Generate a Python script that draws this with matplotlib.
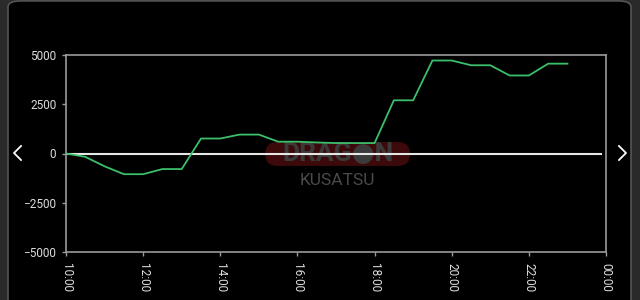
import matplotlib
matplotlib.use('Agg')
import matplotlib.pyplot as plt
from matplotlib.patches import FancyBboxPatch
from matplotlib.lines import Line2D

# hours since 10:00, every 30 minutes
hours = [10.0, 10.5, 11.0, 11.5, 12.0, 12.5, 13.0, 13.5, 14.0, 14.5, 15.0, 15.5,
         16.0, 16.5, 17.0, 17.5, 18.0, 18.5, 19.0, 19.5, 20.0, 20.5, 21.0, 21.5,
         22.0, 22.5, 23.0]
diff = [0, -170, -650, -1050, -1050, -790, -790, 760, 760, 960, 960, 600,
        600, 560, 530, 530, 530, 2700, 2700, 4720, 4720, 4480, 4480, 3960,
        3960, 4560, 4560]
tick_hours = [10, 12, 14, 16, 18, 20, 22, 24]
tick_labels = ['10:00', '12:00', '14:00', '16:00', '18:00', '20:00', '22:00', '00:00']
y_ticks = [-5000, -2500, 0, 2500, 5000]

plt.rcParams['font.family'] = ['Roboto', 'DejaVu Sans']

fig = plt.figure(figsize=(6.4, 3.0), dpi=100)
fig.patch.set_facecolor('#2a2a2a')

# rounded black panel with a grey edge
panel = FancyBboxPatch((8 / 640, -0.1), 623 / 640, 1.097,
                       boxstyle='round,pad=0,rounding_size=0.02',
                       transform=fig.transFigure, facecolor='black',
                       edgecolor='#555555', linewidth=1.2, zorder=-5)
fig.patches.append(panel)

# navigation arrows
for xs in ([21, 14, 21], [619, 626, 619]):
    fig.lines.append(Line2D([x / 640 for x in xs], [1 - 146 / 300, 1 - 153 / 300, 1 - 160 / 300],
                            transform=fig.transFigure, color='white', linewidth=1.3))

ax = fig.add_axes([66 / 640, 48 / 300, 540 / 640, 197 / 300])
ax.set_facecolor('black')

# watermark: red pill, logo text
pill = FancyBboxPatch((0.369, 0.437), 0.268, 0.121,
                      boxstyle='round,pad=0,rounding_size=0.022', mutation_aspect=2.74,
                      transform=ax.transAxes, facecolor='#3c0a0a', edgecolor='none', zorder=0.5)
ax.add_patch(pill)
ax.text(0.503, 0.497, 'DRAG\u25CFN', transform=ax.transAxes, ha='center', va='center',
        fontsize=19, fontweight='bold', color='#3a3a3a', zorder=1)
ax.text(0.503, 0.365, 'KUSATSU', transform=ax.transAxes, ha='center', va='center',
        fontsize=12.5, color='#4a4a4a', zorder=1)

ax.axhline(0, xmin=0, xmax=0.99, color='#e6e6e6', linewidth=1.5, zorder=2)
ax.plot(hours, diff, color='#3cbf6a', linewidth=1.3, zorder=3)

ax.set_xlim(10, 24)
ax.set_ylim(-5000, 5000)
ax.set_xticks(tick_hours)
ax.set_xticklabels(tick_labels, rotation=270)
ax.set_yticks(y_ticks)

for s in ax.spines.values():
    s.set_color('#9a9a9a')
    s.set_linewidth(1.2)
ax.tick_params(colors='#9a9a9a', length=3, width=1, labelcolor='#dddddd', labelsize=8.5)
ax.tick_params(axis='y', pad=4)
ax.tick_params(axis='x', pad=5)

fig.savefig('out.png', dpi=100, facecolor=fig.get_facecolor())
